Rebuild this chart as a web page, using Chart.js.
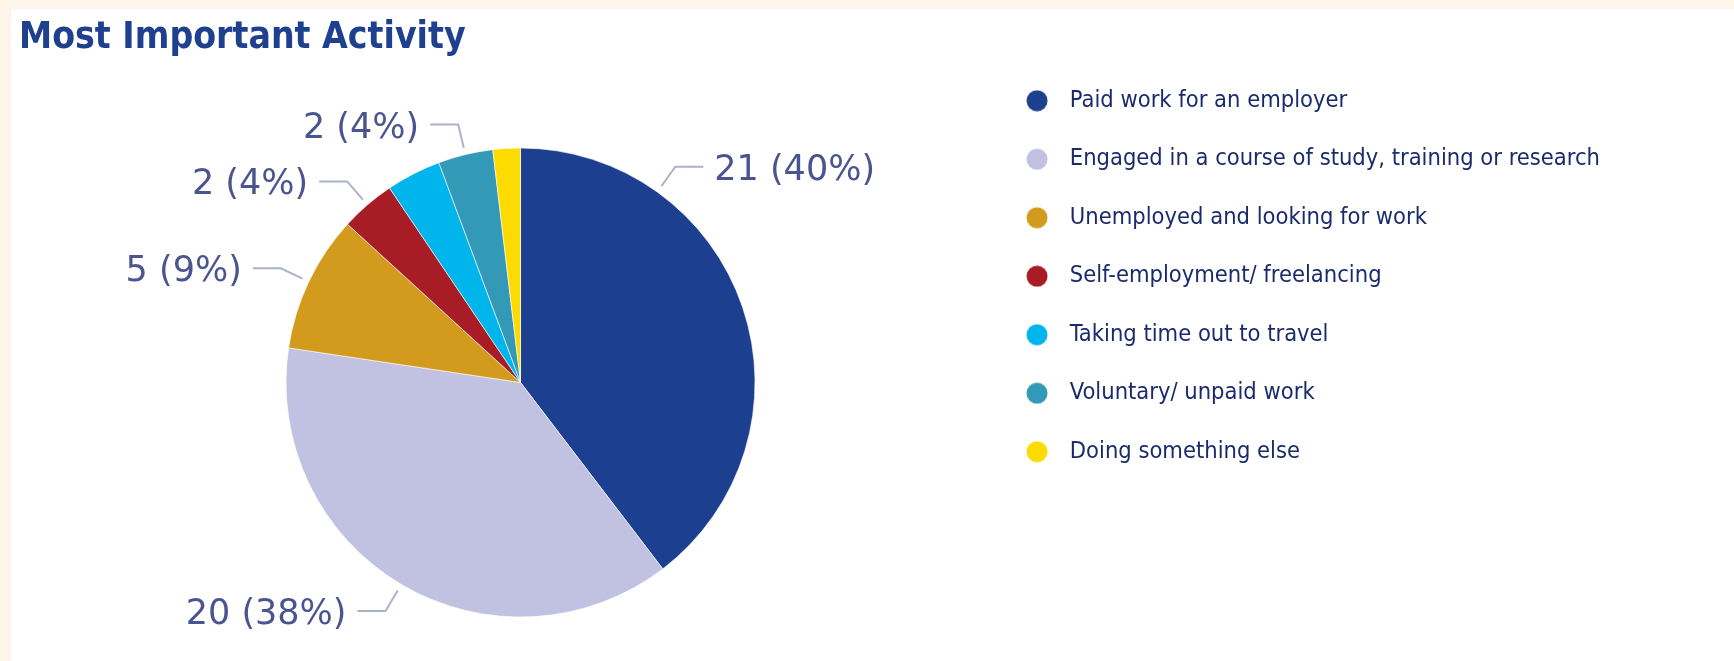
<!DOCTYPE html>
<html>
<head>
<meta charset="utf-8">
<title>Most Important Activity</title>
<script src="https://cdn.jsdelivr.net/npm/chart.js@4.4.1/dist/chart.umd.min.js"></script>
<style>
  html, body { margin: 0; padding: 0; width: 1734px; height: 661px; overflow: hidden; background: #fdf5ea; }
  #panel { position: absolute; left: 11px; top: 9px; right: 0; bottom: 0; background: #fff; }
  #wrap { position: absolute; left: 0; top: 0; width: 1734px; height: 711px; }
  #title {
    position: absolute; left: 19px; top: 17px; margin: 0;
    font: bold 37px 'Liberation Sans Narrow', 'DejaVu Sans Condensed', 'Liberation Sans', sans-serif;
    line-height: 1; color: #1f3f8f; white-space: nowrap;
  }
</style>
</head>
<body>
<div id="panel"></div>
<div id="wrap"><canvas id="chart" width="1734" height="711"></canvas></div>
<h1 id="title">Most Important Activity</h1>
<script>
  // --- DATA ---
  const categories = [
    "Paid work for an employer",
    "Engaged in a course of study, training or research",
    "Unemployed and looking for work",
    "Self-employment/ freelancing",
    "Taking time out to travel",
    "Voluntary/ unpaid work",
    "Doing something else"
  ];
  const counts = [21, 20, 5, 2, 2, 2, 1];
  // Power BI hid the labels that would collide
  const showLabel = [true, true, true, true, false, true, false];

  const colors = ["#1c408f", "#c1c1e1", "#d29b1e", "#a71c25", "#00b5ec", "#3499b7", "#fedb00"];
  const narrowFont = "'Liberation Sans Narrow', 'DejaVu Sans Condensed', 'Liberation Sans', sans-serif";

  // round legend markers, drawn once per colour
  const dot = (c) => {
    const cv = document.createElement("canvas");
    cv.width = cv.height = 22;
    const g = cv.getContext("2d");
    g.fillStyle = c;
    g.beginPath();
    g.arc(11, 11, 10.5, 0, Math.PI * 2);
    g.fill();
    return cv;
  };
  const dots = colors.map(dot);

  // leader lines + "n (p%)" labels outside the slices
  const sliceLabels = {
    id: "sliceLabels",
    afterDatasetsDraw(chart, args, opts) {
      const ctx = chart.ctx;
      const vals = chart.data.datasets[0].data;
      const total = vals.reduce((a, b) => a + b, 0);
      ctx.save();
      chart.getDatasetMeta(0).data.forEach((arc, i) => {
        if (!showLabel[i]) return;
        const { x, y, startAngle, endAngle, outerRadius } =
          arc.getProps(["x", "y", "startAngle", "endAngle", "outerRadius"], true);
        const f = opts.anchor[i] ?? 0.5;
        const a = startAngle + (endAngle - startAngle) * f;
        const cos = Math.cos(a), sin = Math.sin(a);
        const x0 = x + cos * (outerRadius + opts.gap), y0 = y + sin * (outerRadius + opts.gap);
        const x1 = x + cos * (outerRadius + opts.elbow), y1 = y + sin * (outerRadius + opts.elbow);
        const dir = cos >= 0 ? 1 : -1;
        const x2 = x1 + dir * opts.run;
        ctx.strokeStyle = opts.lineColor;
        ctx.lineWidth = opts.lineWidth;
        ctx.beginPath();
        ctx.moveTo(x0, y0);
        ctx.lineTo(x1, y1);
        ctx.lineTo(x2, y1);
        ctx.stroke();
        ctx.font = opts.font;
        ctx.fillStyle = opts.color;
        ctx.textAlign = dir > 0 ? "left" : "right";
        ctx.textBaseline = "middle";
        ctx.fillText(`${vals[i]} (${Math.round(vals[i] / total * 100)}%)`, x2 + dir * opts.pad, y1 + opts.dy);
      });
      ctx.restore();
    }
  };

  new Chart(document.getElementById("chart"), {
    type: "pie",
    data: {
      labels: categories,
      datasets: [{
        data: counts,
        backgroundColor: colors,
        borderColor: "rgba(255,255,255,0.6)",
        borderWidth: 1,
        radius: 234.5
      }]
    },
    options: {
      responsive: false,
      animation: false,
      layout: { padding: { left: 60, right: 124, top: 54, bottom: 0 } },
      plugins: {
        tooltip: { enabled: false },
        legend: {
          position: "right",
          align: "start",
          labels: {
            usePointStyle: true,
            pointStyleWidth: 42,
            boxHeight: 22,
            padding: 35,
            color: "#1a2b6d",
            font: { family: narrowFont, size: 23.5 },
            generateLabels: (chart) =>
              Chart.overrides.pie.plugins.legend.labels.generateLabels(chart)
                .map((item, i) => ({ ...item, pointStyle: dots[i] }))
          }
        },
        sliceLabels: {
          anchor: { 0: 0.25 },
          gap: 7,
          elbow: 31,
          run: 28,
          pad: 11,
          dy: 4,
          lineColor: "#aab3c9",
          lineWidth: 2,
          font: "35px 'DejaVu Sans', sans-serif",
          color: "#4a5590"
        }
      }
    },
    plugins: [sliceLabels]
  });
</script>
</body>
</html>
